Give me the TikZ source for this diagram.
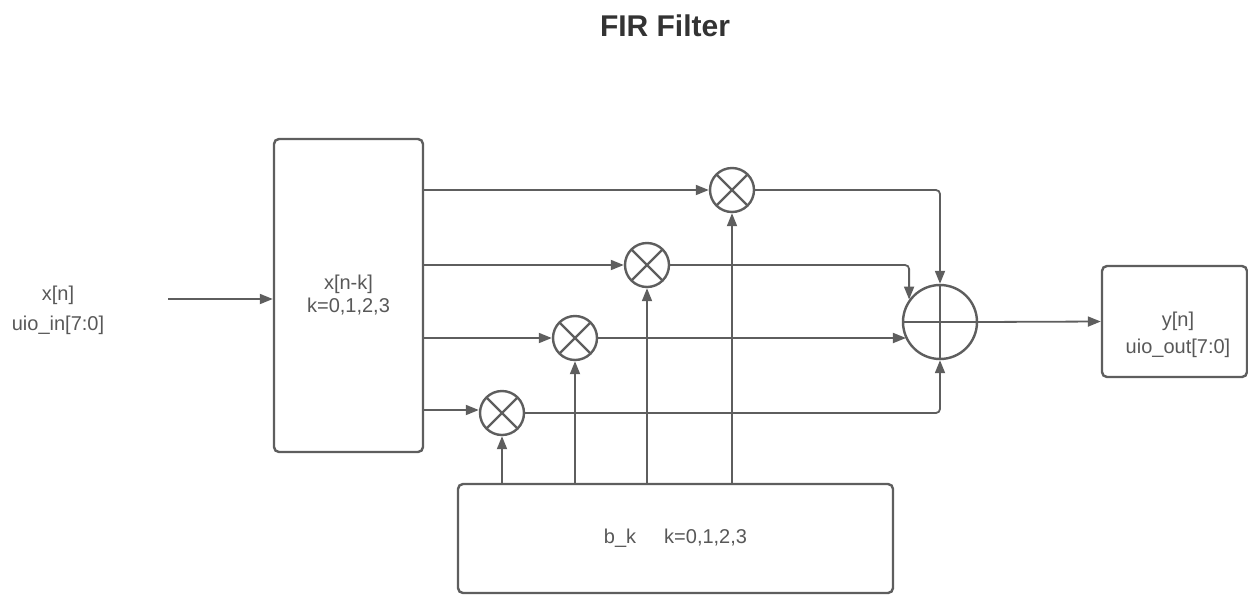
\documentclass[tikz,border=0pt]{standalone}
\usepackage{fontspec}
\setmainfont{Liberation Sans}
\usetikzlibrary{arrows.meta,calc}
\definecolor{linec}{RGB}{94,94,94}
\definecolor{textc}{RGB}{88,88,88}
\definecolor{titlec}{RGB}{51,51,51}
\begin{document}
\begin{tikzpicture}[x=1pt,y=-1pt,
  conn/.style={draw=linec,line width=1.8pt,rounded corners=4pt,-{Triangle[length=13pt,width=10pt]}},
  wire/.style={draw=linec,line width=1.8pt,rounded corners=4pt},
  blockbox/.style={draw=linec,line width=2.4pt,rounded corners=5pt,inner sep=0pt,fill=white,
    text=textc,font=\fontsize{20}{23}\selectfont,align=center},
  mult/.style={circle,draw=linec,line width=2.4pt,minimum size=44pt,inner sep=0pt,fill=white,
    path picture={\draw[linec,line width=2.4pt]
      (path picture bounding box.south west) -- (path picture bounding box.north east)
      (path picture bounding box.north west) -- (path picture bounding box.south east);}},
  adder/.style={circle,draw=linec,line width=2.4pt,minimum size=74pt,inner sep=0pt,fill=white,
    path picture={\draw[linec,line width=2.4pt]
      (path picture bounding box.north) -- (path picture bounding box.south)
      (path picture bounding box.west) -- (path picture bounding box.east);}},
  lbl/.style={text=textc,font=\fontsize{20}{30}\selectfont,align=center,inner sep=0pt}
]
\useasboundingbox (0,0) rectangle (1248,595);

% title
\node[text=titlec,font=\fontsize{30}{36}\selectfont\bfseries] (title) at (665,26) {FIR Filter};

% input label
\node[lbl] (inlabel) at (58,310) {x[n]\\uio\_in[7:0]};
\coordinate (inpt) at (168,299);

% blocks
\node[blockbox,minimum width=149pt,minimum height=313pt] (xbox) at (348.5,295.5) {x[n-k]\\k=0,1,2,3};
\node[blockbox,minimum width=435pt,minimum height=109pt] (bbox) at (675.5,538.5) {b\_k\hspace{28pt}k=0,1,2,3};
\node[blockbox,minimum width=145pt,minimum height=111pt] (ybox) at (1174.5,321.5) {};
\node[lbl,font=\fontsize{20}{27}\selectfont] (ytext) at (1178,335) {y[n]\\uio\_out[7:0]};

% multipliers and adder
\node[mult] (m1) at (732,190) {};
\node[mult] (m2) at (647,265) {};
\node[mult] (m3) at (575,338) {};
\node[mult] (m4) at (502,413) {};
\node[adder] (add) at (940,322) {};

% input
\draw[conn] (inpt) -- (inpt -| xbox.west);

% delay line taps to multipliers
\draw[conn] (xbox.east |- m1.west) -- (m1.west);
\draw[conn] (xbox.east |- m2.west) -- (m2.west);
\draw[conn] (xbox.east |- m3.west) -- (m3.west);
\draw[conn] (xbox.east |- 0,410) -- (m4.west |- 0,410);

% coefficients to multipliers
\draw[conn] (m4 |- bbox.north) -- (m4.south);
\draw[conn] (m3 |- bbox.north) -- (m3.south);
\draw[conn] (m2 |- bbox.north) -- (m2.south);
\draw[conn] (m1 |- bbox.north) -- (m1.south);

% products to adder
\draw[conn] (m1.east) -| (add.north);
\draw[conn] (m2.east) -| (add.144);
\draw[conn] (m3.east) -- (m3.east -| add.207);
\draw[conn] (m4.east) -| (add.south);

% output
\draw[conn] (add.east) -- (ybox.west);
\end{tikzpicture}
\end{document}
